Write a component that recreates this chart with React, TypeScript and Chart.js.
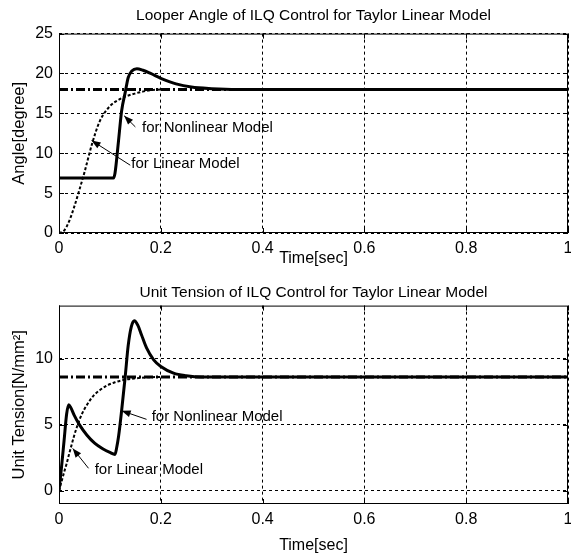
import React, { useEffect, useRef } from "react";
import { Chart, registerables } from "chart.js";

Chart.register(...registerables);

// ---------- data: top plot (Looper Angle) ----------
const angleTitle = "Looper Angle of ILQ Control for Taylor Linear Model";
const angleYLabel = "Angle[degree]";
const angleRefT = [0, 1];
const angleRefY = [18, 18];
const angleLinT = [0, 0.01, 0.02, 0.03, 0.04, 0.05, 0.065, 0.08, 0.1, 0.12, 0.15, 0.18, 0.2];
const angleLinY = [0, 0.3, 1.5, 3.3, 5.4, 7.6, 11.2, 14.0, 15.9, 16.8, 17.5, 17.9, 18.0];
const angleNonT = [0, 0.05, 0.107, 0.11, 0.117, 0.123, 0.13, 0.136, 0.143, 0.153, 0.165, 0.18, 0.2, 0.23, 0.26, 0.3, 0.35, 0.4, 1.0];
const angleNonY = [6.9, 6.9, 6.9, 7.5, 11.6, 15.3, 17.6, 19.5, 20.3, 20.6, 20.4, 20.0, 19.4, 18.7, 18.3, 18.1, 18.0, 18.0, 18.0];
const angleYTicks = [0, 5, 10, 15, 20, 25];
const angleYTickLabels = ["0", "5", "10", "15", "20", "25"];

// ---------- data: bottom plot (Unit Tension) ----------
const tensionTitle = "Unit Tension of ILQ Control for Taylor Linear Model";
const tensionYLabel = "Unit Tension[N/mm²]";
const tensionRefT = [0, 1];
const tensionRefY = [8.6, 8.6];
const tensionLinT = [0, 0.005, 0.01, 0.015, 0.02, 0.025, 0.03, 0.035, 0.045, 0.055, 0.068, 0.08, 0.094, 0.11, 0.13, 0.15, 0.175, 0.2];
const tensionLinY = [0, 0.7, 1.4, 2.05, 2.8, 3.5, 4.2, 4.8, 5.8, 6.5, 7.2, 7.6, 7.95, 8.2, 8.4, 8.5, 8.58, 8.6];
const tensionNonT = [0, 0.005, 0.01, 0.015, 0.019, 0.023, 0.03, 0.04, 0.055, 0.07, 0.085, 0.1, 0.11, 0.113, 0.117, 0.123, 0.13, 0.136, 0.142, 0.148, 0.155, 0.162, 0.172, 0.186, 0.2, 0.225, 0.25, 0.28, 0.3, 1.0];
const tensionNonY = [0, 1.8, 3.8, 5.8, 6.5, 6.3, 5.7, 5.0, 4.2, 3.6, 3.2, 2.9, 2.75, 3.2, 4.1, 6.05, 8.6, 11.0, 12.4, 12.85, 12.5, 11.8, 10.8, 9.9, 9.4, 8.9, 8.7, 8.6, 8.6, 8.6];
const tensionYTicks = [0, 5, 10];
const tensionYTickLabels = ["0", "5", "10"];

// ---------- shared axis ----------
const xLabel = "Time[sec]";
const xTicks = [0, 0.2, 0.4, 0.6, 0.8, 1];
const xTickLabels = ["0", "0.2", "0.4", "0.6", "0.8", "1"];

// ---------- annotations (data coordinates) ----------
const annoLabels = ["for Nonlinear Model", "for Linear Model"];
const angleAnnoTipX = [0.128, 0.064];
const angleAnnoTipY = [14.7, 11.6];
const angleAnnoTailX = [0.15, 0.14];
const angleAnnoTailY = [13.3, 8.5];
const angleAnnoTextX = [0.163, 0.142];
const angleAnnoTextY = [13.2, 8.7];
const tensionAnnoTipX = [0.123, 0.027];
const tensionAnnoTipY = [6.05, 3.2];
const tensionAnnoTailX = [0.172, 0.058];
const tensionAnnoTailY = [5.4, 1.7];
const tensionAnnoTextX = [0.182, 0.07];
const tensionAnnoTextY = [5.6, 1.55];

const FONT = "'Liberation Sans', Arial, sans-serif";

function pts(t: number[], y: number[]) {
  return t.map((v, i) => ({ x: v, y: y[i] }));
}

function makeFramePlugin(anno: any) {
  return {
    id: "frame",
    afterDatasetsDraw(chart: any) {
      const { ctx, chartArea: a, scales } = chart;
      const xs = scales.x;
      const ys = scales.y;
      ctx.save();
      ctx.setLineDash([]);
      ctx.strokeStyle = "#000";
      ctx.lineWidth = 1;
      ctx.strokeRect(a.left + 0.5, a.top + 0.5, a.right - a.left - 1, a.bottom - a.top - 1);
      ctx.beginPath();
      for (const t of xs.ticks) {
        const px = Math.round(xs.getPixelForValue(t.value)) + 0.5;
        ctx.moveTo(px, a.bottom);
        ctx.lineTo(px, a.bottom - 5);
        ctx.moveTo(px, a.top);
        ctx.lineTo(px, a.top + 5);
      }
      for (const t of ys.ticks) {
        const py = Math.round(ys.getPixelForValue(t.value)) + 0.5;
        ctx.moveTo(a.left, py);
        ctx.lineTo(a.left + 5, py);
        ctx.moveTo(a.right, py);
        ctx.lineTo(a.right - 5, py);
      }
      ctx.stroke();
      // annotations
      ctx.font = `15px ${FONT}`;
      ctx.fillStyle = "#000";
      ctx.textBaseline = "middle";
      ctx.textAlign = "left";
      for (let i = 0; i < anno.labels.length; i++) {
        const tx = xs.getPixelForValue(anno.tipX[i]);
        const ty = ys.getPixelForValue(anno.tipY[i]);
        const lx = xs.getPixelForValue(anno.tailX[i]);
        const ly = ys.getPixelForValue(anno.tailY[i]);
        ctx.beginPath();
        ctx.moveTo(lx, ly);
        ctx.lineTo(tx, ty);
        ctx.stroke();
        const ang = Math.atan2(ty - ly, tx - lx);
        const L = 9;
        const W = 3.5;
        ctx.beginPath();
        ctx.moveTo(tx, ty);
        ctx.lineTo(tx - L * Math.cos(ang) + W * Math.sin(ang), ty - L * Math.sin(ang) - W * Math.cos(ang));
        ctx.lineTo(tx - L * Math.cos(ang) - W * Math.sin(ang), ty - L * Math.sin(ang) + W * Math.cos(ang));
        ctx.closePath();
        ctx.fill();
        ctx.fillText(anno.labels[i], xs.getPixelForValue(anno.textX[i]), ys.getPixelForValue(anno.textY[i]));
      }
      ctx.restore();
    },
  };
}

function buildConfig(p: any) {
  return {
    type: "line",
    data: {
      datasets: [
        {
          data: pts(p.nonT, p.nonY),
          borderColor: "#000",
          borderWidth: 3,
          pointRadius: 0,
          cubicInterpolationMode: "monotone",
          order: 1,
        },
        {
          data: pts(p.linT, p.linY),
          borderColor: "#000",
          borderWidth: 2,
          borderDash: [3, 2],
          pointRadius: 0,
          cubicInterpolationMode: "monotone",
          order: 2,
        },
        {
          data: pts(p.refT, p.refY),
          borderColor: "#000",
          borderWidth: 3,
          borderDash: [9, 3, 2, 3],
          pointRadius: 0,
          order: 3,
        },
      ],
    },
    options: {
      animation: false,
      responsive: false,
      events: [],
      layout: { padding: { left: 0, right: 3, top: 0, bottom: 0 } },
      plugins: {
        legend: { display: false },
        tooltip: { enabled: false },
        title: {
          display: true,
          text: p.title,
          color: "#000",
          fullSize: false,
          font: { size: 15.5, family: FONT, weight: "normal" },
          padding: { top: p.titlePadTop, bottom: p.titlePadBottom },
        },
      },
      scales: {
        x: {
          type: "linear",
          min: 0,
          max: 1,
          afterBuildTicks: (s: any) => {
            s.ticks = xTicks.map((v) => ({ value: v }));
          },
          afterFit: (s: any) => {
            s.height = p.xAxisHeight;
            s.paddingLeft = 0;
            s.paddingRight = 0;
          },
          ticks: {
            color: "#000",
            font: { size: 16, family: FONT },
            padding: 6,
            maxRotation: 0,
            autoSkip: false,
            callback: (_v: any, i: number) => xTickLabels[i],
          },
          grid: { color: "#000", lineWidth: 1, drawTicks: false },
          border: { display: false, dash: [3, 3] },
          title: {
            display: true,
            text: xLabel,
            color: "#000",
            font: { size: 16, family: FONT },
            padding: { top: 0, bottom: p.xTitlePad },
          },
        },
        y: {
          type: "linear",
          min: p.yMin,
          max: p.yMax,
          afterBuildTicks: (s: any) => {
            s.ticks = p.yTicks.map((v: number) => ({ value: v }));
          },
          afterFit: (s: any) => {
            s.width = 59;
            s.paddingTop = 0;
            s.paddingBottom = 0;
          },
          ticks: {
            color: "#000",
            font: { size: 16, family: FONT },
            padding: 6,
            autoSkip: false,
            callback: (_v: any, i: number) => p.yTickLabels[i],
          },
          grid: { color: "#000", lineWidth: 1, drawTicks: false },
          border: { display: false, dash: [3, 3] },
          title: {
            display: true,
            text: p.yLabel,
            color: "#000",
            font: { size: 16.5, family: FONT },
            padding: { top: 10, bottom: 0 },
          },
        },
      },
    },
    plugins: [makeFramePlugin(p.anno)],
  };
}

function ChartBox(props: { params: any; width: number; height: number }) {
  const ref = useRef<HTMLCanvasElement | null>(null);
  useEffect(() => {
    if (!ref.current) return;
    const chart = new Chart(ref.current, buildConfig(props.params) as any);
    return () => chart.destroy();
  }, []);
  return (
    <canvas
      ref={ref}
      width={props.width}
      height={props.height}
      style={{ display: "block", width: props.width, height: props.height }}
    />
  );
}

const topParams = {
  title: angleTitle,
  yLabel: angleYLabel,
  refT: angleRefT,
  refY: angleRefY,
  linT: angleLinT,
  linY: angleLinY,
  nonT: angleNonT,
  nonY: angleNonY,
  yMin: 0,
  yMax: 25,
  yTicks: angleYTicks,
  yTickLabels: angleYTickLabels,
  titlePadTop: 6,
  titlePadBottom: 9,
  xAxisHeight: 37,
  xTitlePad: 2,
  anno: {
    labels: annoLabels,
    tipX: angleAnnoTipX,
    tipY: angleAnnoTipY,
    tailX: angleAnnoTailX,
    tailY: angleAnnoTailY,
    textX: angleAnnoTextX,
    textY: angleAnnoTextY,
  },
};

const bottomParams = {
  title: tensionTitle,
  yLabel: tensionYLabel,
  refT: tensionRefT,
  refY: tensionRefY,
  linT: tensionLinT,
  linY: tensionLinY,
  nonT: tensionNonT,
  nonY: tensionNonY,
  yMin: -1,
  yMax: 14,
  yTicks: tensionYTicks,
  yTickLabels: tensionYTickLabels,
  titlePadTop: 13,
  titlePadBottom: 4,
  xAxisHeight: 52,
  xTitlePad: 1,
  anno: {
    labels: annoLabels,
    tipX: tensionAnnoTipX,
    tipY: tensionAnnoTipY,
    tailX: tensionAnnoTailX,
    tailY: tensionAnnoTailY,
    textX: tensionAnnoTextX,
    textY: tensionAnnoTextY,
  },
};

export default function App() {
  return (
    <div style={{ position: "absolute", left: 0, top: 0, width: 571, height: 556, background: "#fff" }}>
      <ChartBox params={topParams} width={571} height={270} />
      <ChartBox params={bottomParams} width={571} height={286} />
    </div>
  );
}
